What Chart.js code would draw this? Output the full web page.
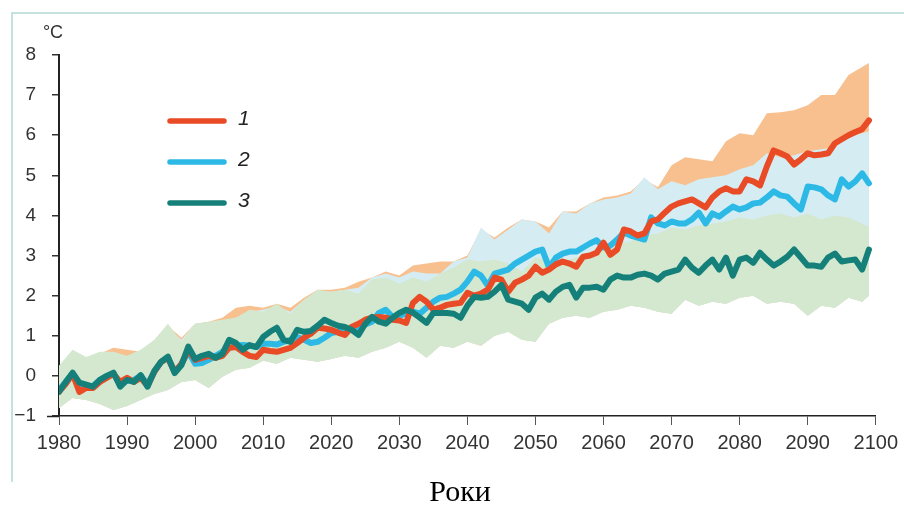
<!DOCTYPE html>
<html>
<head>
<meta charset="utf-8">
<script src="https://cdn.jsdelivr.net/npm/chart.js@4.4.1/dist/chart.umd.min.js"></script>
<style>
  html, body { margin: 0; padding: 0; background: #fff; }
  #wrap { width: 904px; height: 512px; }
</style>
</head>
<body>
<div id="wrap"><canvas id="tempChart" width="904" height="512"></canvas></div>
<script>
const SERIES_LABELS = ["1", "2", "3"];

// yearly lines, 1980..2099
const START_YEAR = 1980;
const SERIES_1 = [
  -0.4, -0.2, 0.05, -0.4, -0.3, -0.3, -0.15, -0.05, 0.05, -0.15,
  -0.05, -0.15, -0.05, -0.25, 0.1, 0.35, 0.45, 0.1, 0.3, 0.65,
  0.4, 0.45, 0.5, 0.45, 0.5, 0.7, 0.72, 0.6, 0.5, 0.47,
  0.65, 0.62, 0.6, 0.65, 0.7, 0.82, 0.95, 1.05, 1.2, 1.18,
  1.15, 1.08, 1.02, 1.22, 1.3, 1.4, 1.45, 1.47, 1.45, 1.4,
  1.38, 1.32, 1.82, 1.97, 1.85, 1.65, 1.7, 1.77, 1.8, 1.82,
  2.07, 2.0, 2.05, 2.15, 2.45, 2.4, 2.1, 2.32, 2.4, 2.5,
  2.72, 2.57, 2.65, 2.78, 2.85, 2.8, 2.72, 2.97, 3.0, 3.07,
  3.32, 3.02, 3.15, 3.65, 3.6, 3.5, 3.55, 3.85, 3.9, 4.07,
  4.22, 4.3, 4.35, 4.4, 4.3, 4.2, 4.45, 4.6, 4.68, 4.6,
  4.6, 4.9, 4.85, 4.75, 5.22, 5.62, 5.55, 5.47, 5.27, 5.4,
  5.55, 5.5, 5.52, 5.55, 5.8, 5.9, 6.0, 6.08, 6.15, 6.37
];
const SERIES_2 = [
  -0.35, -0.15, 0.05, -0.2, -0.25, -0.25, -0.1, -0.02, 0.05, -0.2,
  -0.12, -0.1, 0.0, -0.2, 0.1, 0.35, 0.45, 0.1, 0.3, 0.6,
  0.3, 0.32, 0.4, 0.5, 0.6, 0.7, 0.75, 0.77, 0.75, 0.72,
  0.8, 0.8, 0.78, 0.85, 0.9, 0.97, 0.9, 0.82, 0.85, 0.95,
  1.07, 1.1, 1.12, 1.15, 1.22, 1.28, 1.35, 1.57, 1.65, 1.47,
  1.5, 1.55, 1.6, 1.55, 1.7, 1.85, 1.95, 1.97, 2.05, 2.15,
  2.35, 2.6, 2.5, 2.25, 2.55, 2.6, 2.65, 2.8, 2.9, 3.0,
  3.1, 3.15, 2.7, 2.95, 3.05, 3.1, 3.1, 3.2, 3.3, 3.38,
  3.2, 3.25, 3.4, 3.57, 3.5, 3.45, 3.4, 3.95, 3.8, 3.75,
  3.85, 3.8, 3.8, 3.9, 4.07, 3.8, 4.05, 3.97, 4.1, 4.22,
  4.15, 4.2, 4.3, 4.32, 4.45, 4.6, 4.5, 4.47, 4.3, 4.15,
  4.72, 4.7, 4.65, 4.5, 4.4, 4.9, 4.72, 4.85, 5.05, 4.8
];
const SERIES_3 = [
  -0.4, -0.15, 0.08, -0.17, -0.22, -0.27, -0.1, 0.0, 0.08, -0.27,
  -0.1, -0.15, 0.02, -0.27, 0.12, 0.35, 0.48, 0.07, 0.27, 0.73,
  0.42, 0.5, 0.55, 0.45, 0.55, 0.9, 0.82, 0.65, 0.77, 0.72,
  0.97, 1.1, 1.2, 0.9, 0.85, 1.15, 1.1, 1.12, 1.25, 1.4,
  1.32, 1.25, 1.22, 1.15, 1.02, 1.3, 1.47, 1.35, 1.3, 1.45,
  1.57, 1.65, 1.58, 1.45, 1.32, 1.57, 1.57, 1.57, 1.55, 1.45,
  1.75, 1.97, 1.95, 1.97, 2.1, 2.27, 1.9, 1.85, 1.8, 1.65,
  1.95, 2.05, 1.9, 2.1, 2.22, 2.27, 1.95, 2.2, 2.2, 2.22,
  2.15, 2.4, 2.5, 2.45, 2.45, 2.52, 2.55, 2.5, 2.4, 2.55,
  2.6, 2.65, 2.9, 2.7, 2.57, 2.75, 2.9, 2.65, 2.95, 2.5,
  2.9, 2.95, 2.82, 3.07, 2.9, 2.75, 2.85, 2.97, 3.15, 2.95,
  2.75, 2.75, 2.72, 2.95, 3.05, 2.85, 2.88, 2.9, 2.65, 3.15
];

// uncertainty ranges, read every second year
const BAND_YEARS = [
  1980, 1982, 1984, 1986, 1988, 1990, 1992, 1994, 1996, 1998,
  2000, 2002, 2004, 2006, 2008, 2010, 2012, 2014, 2016, 2018,
  2020, 2022, 2024, 2026, 2028, 2030, 2032, 2034, 2036, 2038,
  2040, 2042, 2044, 2046, 2048, 2050, 2052, 2054, 2056, 2058,
  2060, 2062, 2064, 2066, 2068, 2070, 2072, 2074, 2076, 2078,
  2080, 2082, 2084, 2086, 2088, 2090, 2092, 2094, 2096, 2098,
  2099
];
const BAND_1_HIGH = [
  0.25, 0.45, 0.45, 0.55, 0.7, 0.65, 0.6, 0.85, 1.25, 0.95,
  1.3, 1.35, 1.45, 1.7, 1.75, 1.7, 1.8, 1.7, 1.95, 2.15,
  2.15, 2.2, 2.35, 2.45, 2.6, 2.5, 2.75, 2.8, 2.85, 2.85,
  3.0, 3.65, 3.45, 3.7, 3.9, 3.85, 3.7, 4.1, 4.1, 4.3,
  4.45, 4.5, 4.6, 4.9, 4.7, 5.25, 5.45, 5.4, 5.35, 5.85,
  6.05, 6.0, 6.55, 6.57, 6.62, 6.75, 7.0, 7.0, 7.5, 7.7,
  7.8
];
const BAND_2_HIGH = [
  0.15, 0.5, 0.4, 0.5, 0.55, 0.45, 0.6, 0.85, 1.2, 0.9,
  1.3, 1.3, 1.35, 1.45, 1.6, 1.65, 1.75, 1.6, 1.9, 2.1,
  2.1, 2.15, 2.2, 2.45, 2.55, 2.45, 2.6, 2.55, 2.55, 2.85,
  2.95, 3.7, 3.4, 3.65, 3.9, 3.85, 3.55, 4.1, 4.05, 4.3,
  4.4, 4.45, 4.55, 4.95, 4.65, 4.85, 4.75, 4.9, 4.95, 5.0,
  5.15, 5.25, 5.55, 5.45, 5.5, 5.6, 5.65, 5.7, 5.95, 6.05,
  6.1
];
const BAND_3_HIGH = [
  0.25, 0.65, 0.47, 0.6, 0.6, 0.5, 0.65, 0.9, 1.3, 0.85,
  1.3, 1.35, 1.4, 1.45, 1.65, 1.6, 1.8, 1.55, 1.9, 2.15,
  2.1, 2.15, 2.05, 2.4, 2.45, 2.3, 2.45, 2.35, 2.55, 2.7,
  2.9, 2.85, 2.9, 2.8, 2.6, 2.95, 2.9, 2.85, 2.95, 3.05,
  3.2, 3.3, 3.35, 3.5, 3.55, 3.7, 3.65, 3.75, 3.8, 3.85,
  3.95, 3.9, 4.0, 4.05, 3.95, 4.05, 3.9, 4.0, 3.95, 3.8,
  3.7
];
const BAND_3_LOW = [
  -0.8, -0.55, -0.6, -0.7, -0.85, -0.75, -0.6, -0.45, -0.35, -0.15,
  -0.1, -0.3, -0.02, 0.15, 0.2, 0.38, 0.3, 0.45, 0.4, 0.35,
  0.42, 0.5, 0.45, 0.6, 0.7, 0.85, 0.7, 0.45, 0.75, 0.7,
  0.85, 0.75, 1.0, 1.1, 0.9, 0.85, 1.3, 1.45, 1.5, 1.45,
  1.6, 1.65, 1.75, 1.7, 1.6, 1.55, 1.9, 1.75, 1.85, 1.8,
  1.95, 2.0, 1.8, 1.85, 1.8, 1.5, 1.75, 1.7, 1.95, 1.85,
  2.0
];

const LINE_COLORS = ["#e94b26", "#2cb9e6", "#15807a"];
const BAND_COLORS = ["#f8c08f", "#d5edf2", "#d3e8cf"];
const FONT = "'Liberation Sans', Arial, sans-serif";

const YEARS = SERIES_1.map((_, i) => START_YEAR + i);
const toPoints = (xs, ys) => xs.map((x, i) => ({ x: x, y: ys[i] }));

const lineSet = (i, values, order) => ({
  label: SERIES_LABELS[i],
  data: toPoints(YEARS, values),
  borderColor: LINE_COLORS[i],
  borderWidth: 6,
  fill: false,
  order: order,
});

const bandSet = (i, values, order) => ({
  label: "band " + SERIES_LABELS[i],
  data: toPoints(BAND_YEARS, values),
  borderColor: "rgba(0,0,0,0)",
  borderWidth: 0,
  backgroundColor: BAND_COLORS[i],
  fill: 6,
  order: order,
});

// title, axis unit, legend and the frame round the figure
const decor = {
  id: "decor",
  afterDraw(chart) {
    const { ctx, chartArea } = chart;
    ctx.save();

    ctx.strokeStyle = "#c4e2de";
    ctx.lineWidth = 2;
    ctx.beginPath();
    ctx.moveTo(12, 482);
    ctx.lineTo(12, 13);
    ctx.lineTo(904, 13);
    ctx.stroke();

    // x axis runs a little past the y axis
    ctx.strokeStyle = "#222";
    ctx.lineWidth = 1.5;
    ctx.beginPath();
    ctx.moveTo(47, chartArea.bottom + 0.5);
    ctx.lineTo(chartArea.left, chartArea.bottom + 0.5);
    ctx.stroke();

    ctx.fillStyle = "#333";
    ctx.font = "18px " + FONT;
    ctx.textAlign = "center";
    ctx.textBaseline = "middle";
    ctx.fillText("°C", 53, 33);

    ctx.fillStyle = "#000";
    ctx.font = "30px 'Liberation Serif', 'Times New Roman', serif";
    ctx.textBaseline = "alphabetic";
    ctx.fillText("Роки", 460, 501);

    const legendY = [121, 162, 203];
    ctx.lineCap = "round";
    ctx.font = "italic 21px " + FONT;
    ctx.textAlign = "left";
    ctx.textBaseline = "middle";
    for (let i = 0; i < 3; i++) {
      const ds = chart.data.datasets[i];
      ctx.strokeStyle = ds.borderColor;
      ctx.lineWidth = 5.5;
      ctx.beginPath();
      ctx.moveTo(170, legendY[i]);
      ctx.lineTo(224, legendY[i]);
      ctx.stroke();
      ctx.fillStyle = "#222";
      ctx.fillText(ds.label, 238, legendY[i] - 2);
    }
    ctx.restore();
  },
};

const config = {
  type: "line",
  data: {
    datasets: [
      lineSet(0, SERIES_1, 2),
      lineSet(1, SERIES_2, 3),
      lineSet(2, SERIES_3, 1),
      bandSet(0, BAND_1_HIGH, 12),
      bandSet(1, BAND_2_HIGH, 11),
      bandSet(2, BAND_3_HIGH, 10),
      {
        label: "band low",
        data: toPoints(BAND_YEARS, BAND_3_LOW),
        borderWidth: 0,
        borderColor: "rgba(0,0,0,0)",
        fill: false,
        order: 13,
      },
    ],
  },
  options: {
    responsive: false,
    animation: false,
    devicePixelRatio: 1,
    layout: { padding: { top: 55, right: 23, left: 0, bottom: 0 } },
    elements: {
      point: { radius: 0 },
      line: { tension: 0, borderJoinStyle: "round", borderCapStyle: "round" },
    },
    plugins: {
      legend: { display: false },
      tooltip: { enabled: false },
    },
    scales: {
      x: {
        type: "linear",
        min: 1980,
        max: 2100,
        ticks: {
          stepSize: 10,
          color: "#333",
          font: { family: FONT, size: 20 },
          padding: 6,
          maxRotation: 0,
          callback: (v) => String(v),
        },
        grid: { drawOnChartArea: false, tickLength: 9, color: "#555", lineWidth: 1 },
        border: { color: "#222", width: 1.5 },
        afterFit: (s) => { s.height = 96; },
      },
      y: {
        min: -1,
        max: 8,
        ticks: {
          stepSize: 1,
          color: "#333",
          font: { family: FONT, size: 19 },
          padding: 16,
          callback: (v) => (v < 0 ? "\u2212" + Math.abs(v) : String(v)),
        },
        grid: { drawOnChartArea: false, tickLength: 7, color: "#333", lineWidth: 1.5 },
        border: { color: "#222", width: 2 },
        afterFit: (s) => { s.width = 59; },
      },
    },
  },
  plugins: [decor],
};

new Chart(document.getElementById("tempChart"), config);
</script>
</body>
</html>
